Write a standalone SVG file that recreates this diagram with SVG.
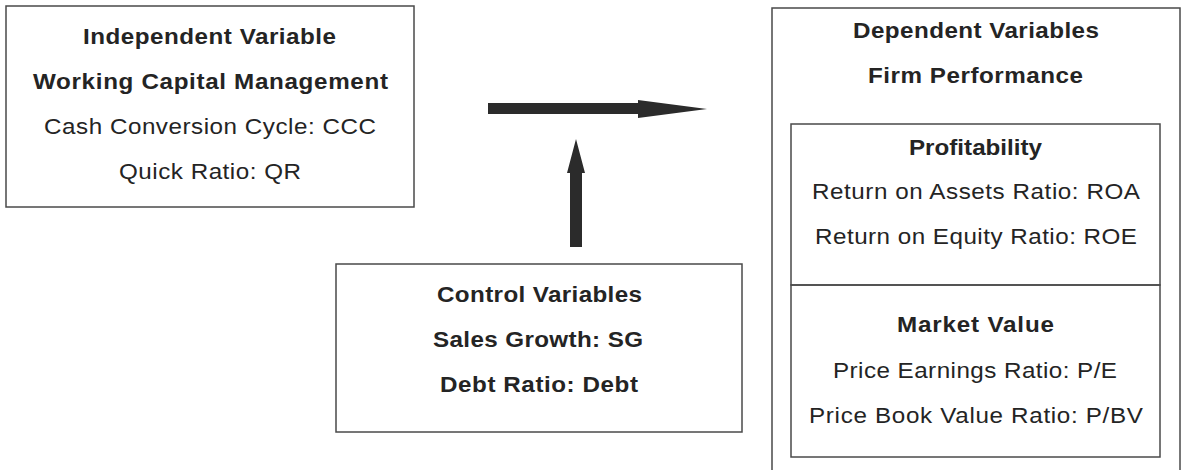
<svg xmlns="http://www.w3.org/2000/svg" width="1182" height="470" viewBox="0 0 1182 470">
<style>
.box{fill:none;stroke:#4a4a4a;stroke-width:1.5}
text{font-family:"Liberation Sans",Arial,sans-serif;font-size:22px;fill:#242424;text-anchor:middle}
.b{font-weight:bold}
.arrow{fill:#2b2b2b}
</style>
<rect width="1182" height="470" fill="#ffffff"/>
<g id="independent">
<rect class="box" x="6" y="6" width="408" height="201"/>
<text class="b" transform="matrix(1.1 0 0 1 209.5 0)" x="0" y="44" textLength="230" lengthAdjust="spacing">Independent Variable</text>
<text class="b" transform="matrix(1.1 0 0 1 210.5 0)" x="0" y="89" textLength="322.7" lengthAdjust="spacing">Working Capital Management</text>
<text transform="matrix(1.1 0 0 1 210 0)" x="0" y="134" textLength="301.8" lengthAdjust="spacing">Cash Conversion Cycle: CCC</text>
<text transform="matrix(1.1 0 0 1 210 0)" x="0" y="179" textLength="165.5" lengthAdjust="spacing">Quick Ratio: QR</text>
</g>
<g id="control">
<rect class="box" x="336" y="264" width="406" height="168"/>
<text class="b" transform="matrix(1.1 0 0 1 539.5 0)" x="0" y="302" textLength="186.4" lengthAdjust="spacing">Control Variables</text>
<text class="b" transform="matrix(1.1 0 0 1 538 0)" x="0" y="347" textLength="190.9" lengthAdjust="spacing">Sales Growth: SG</text>
<text class="b" transform="matrix(1.1 0 0 1 539 0)" x="0" y="392" textLength="180" lengthAdjust="spacing">Debt Ratio: Debt</text>
</g>
<g id="dependent">
<rect class="box" x="772" y="8" width="408" height="480"/>
<text class="b" transform="matrix(1.1 0 0 1 976 0)" x="0" y="38" textLength="223.6" lengthAdjust="spacing">Dependent Variables</text>
<text class="b" transform="matrix(1.1 0 0 1 975.5 0)" x="0" y="83" textLength="195.5" lengthAdjust="spacing">Firm Performance</text>
<g id="profitability">
<rect class="box" x="791" y="124" width="369" height="161"/>
<text class="b" transform="matrix(1.1 0 0 1 975.5 0)" x="0" y="155" textLength="121" lengthAdjust="spacing">Profitability</text>
<text transform="matrix(1.1 0 0 1 976 0)" x="0" y="199" textLength="298.2" lengthAdjust="spacing">Return on Assets Ratio: ROA</text>
<text transform="matrix(1.1 0 0 1 976 0)" x="0" y="244" textLength="292.7" lengthAdjust="spacing">Return on Equity Ratio: ROE</text>
</g>
<g id="market-value">
<rect class="box" x="791" y="285" width="369" height="172"/>
<text class="b" transform="matrix(1.1 0 0 1 975.5 0)" x="0" y="332" textLength="142.7" lengthAdjust="spacing">Market Value</text>
<text transform="matrix(1.1 0 0 1 975 0)" x="0" y="378" textLength="258.2" lengthAdjust="spacing">Price Earnings Ratio: P/E</text>
<text transform="matrix(1.1 0 0 1 976 0)" x="0" y="423" textLength="303.6" lengthAdjust="spacing">Price Book Value Ratio: P/BV</text>
</g>
</g>
<g id="connectors">
<polygon class="arrow" points="488,103 638,103 638,100 707,109 638,118 638,114 488,114"/>
<polygon class="arrow" points="570,247 570,173 567,173 576,139 585,173 582,173 582,247"/>
</g>
</svg>
